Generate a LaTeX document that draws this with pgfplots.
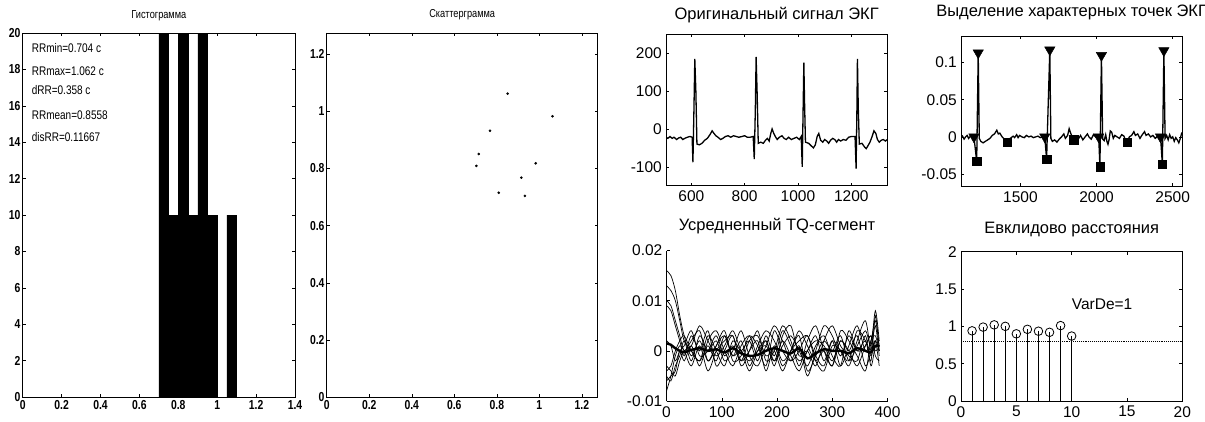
\documentclass[border=0pt]{standalone}
\usepackage{fontspec}
\setmainfont{Liberation Sans}
\newfontfamily\narrowfont[FakeStretch=0.8]{Liberation Sans}
\usepackage{pgfplots}
\usepackage{pgfplotstable}
\pgfplotsset{compat=1.18}

% MATLAB-like look
\pgfplotsset{
  mat/.style={
    scale only axis, tick align=inside, major tick length=3pt,
    axis line style={line width=0.7pt}, every tick/.style={black, line width=0.5pt},
    scaled ticks=false, clip=true,
    /pgf/number format/assume math mode=true,
  },
  big/.style={mat,
    tick label style={font=\fontsize{15.5}{17}\selectfont},
    yticklabel style={inner sep=1pt, xshift=-3pt},
    xticklabel style={inner sep=1pt, yshift=-4pt},
    title style={font=\fontsize{16.5}{18}\selectfont, at={(0.5,1)}, anchor=base},
  },
  small/.style={mat,
    tick label style={font=\narrowfont\bfseries\fontsize{13}{14}\selectfont},
    yticklabel style={inner sep=1pt, xshift=-1pt},
    xticklabel style={inner sep=1pt, yshift=-2pt},
    title style={font=\narrowfont\fontsize{11.5}{12}\selectfont, at={(0.5,1)}, anchor=base, yshift=9pt},
  },
}

% averaged TQ segments (values in 1e-3)
\pgfplotstableread{
x   c1 c2 c3 c4 c5 c6 c7 c8 c9 c10 m
0   16 13 10  9 -5 -6 -8 -4  2 -3  1.5
8   15 12  9  8 -6 -5 -5 -3  1 -4  1.2
16  12 10  6  5 -3 -4 -1  0 -2 -5  0.5
24   7  6  3  2 -1  0  1  2  0 -2  0
32   3  2  0 -1  2 -2  0  3  1  0 -0.3
45  -1  0  2  3 -2  1 -3  0  4  1  0.2
60   2 -2  4  0  3 -3  1 -2 -1  5  0.5
75  -2  3 -2  4  0  2 -4  1  0  2  0
90   1  0  1 -3  2  4  0 -2  3 -1  0.3
105  3 -3  4  0 -2  0  2  3 -1  1 -0.3
120 -1  2 -2  3  0 -3  3 -1  1  4  0.5
135  2  0 -1 -3  4  1 -2  0 -2  0 -0.5
150 -3  2  3  0 -1  3  0 -4  2 -2 -1
165  1 -2  1  4 -3 -1  2  0  3  0 -0.8
180  4  3 -3 -2  1  2 -4  2 -1  1  0
195  2 -1  4  0  5 -3  1 -2  0 -2  0.5
210 -2  4  0  5  2  3 -3  1 -4  2  0
225  0  1 -2  2 -2  5  0  3  0 -1 -0.5
240  3 -2  1 -3  0 -1  4  0  2 -4  0.5
255 -4  0 -5  2  3  0  1 -3  3  0 -1.5
270 -1  3  0  5 -2 -3 -2  1 -1  2 -0.5
285  2 -2  5  0 -4  2  0  3 -3  1  0.3
300  0  2  3 -3  1  5 -3 -1  2 -2  0
315  3 -3 -1  2  0  1  4 -3  0  2  0
330 -2  1  3  0 -3 -1  2  4 -2  0 -0.5
345  1  5  0  3  2 -2 -1  0  4 -3  0.5
360  4  0  2 -3  6  3 -4  1  2  1  0
370  1  2 -2  0  0 -3  2  3 -1  3 -0.3
378  8  6  7  5  2  1  3 -1  2  0  1
385  2  1  0 -1 -3  1  0 -2  0  1  0.8
}\tqtable

\begin{document}
\begin{tikzpicture}
\useasboundingbox (0,0) rectangle (1205pt,421pt);

% ---------- histogram
\begin{axis}[small, at={(22.7pt,24pt)}, anchor=south west,
  width=272.3pt, height=364pt,
  xmin=0, xmax=1.4, ymin=0, ymax=20,
  xtick={0,0.2,0.4,0.6,0.8,1,1.2,1.4}, xticklabels={0,0.2,0.4,0.6,0.8,1,1.2,1.4},
  ytick={0,2,4,6,8,10,12,14,16,18,20}, yticklabels={0,2,4,6,8,10,12,14,16,18,20},
  title={Гистограмма}]
\addplot[ybar interval, fill=black, draw=black] coordinates
  {(0.70,20)(0.75,10)(0.80,20)(0.85,10)(0.90,20)(0.95,10)(1.00,0)(1.05,10)(1.10,0)};
\begin{scope}[every node/.style={anchor=west, inner sep=0pt, font=\narrowfont\fontsize{12.5}{14}\selectfont}]
\node at (axis cs:0.046,19.18) {RRmin=0.704 с};
\node at (axis cs:0.046,17.91) {RRmax=1.062 с};
\node at (axis cs:0.046,16.87) {dRR=0.358 с};
\node at (axis cs:0.046,15.51) {RRmean=0.8558};
\node at (axis cs:0.046,14.29) {disRR=0.11667};
\end{scope}
\end{axis}

% ---------- scattergram
\begin{axis}[small, at={(326.7pt,24pt)}, anchor=south west,
  width=271pt, height=364pt,
  xmin=0, xmax=1.2744, ymin=0, ymax=1.2744,
  xtick={0,0.2,0.4,0.6,0.8,1,1.2}, xticklabels={0,0.2,0.4,0.6,0.8,1,1.2},
  ytick={0,0.2,0.4,0.6,0.8,1,1.2}, yticklabels={0,0.2,0.4,0.6,0.8,1,1.2},
  title={Скаттерграмма}]
\addplot[only marks, mark=*, mark size=1.1pt, black] coordinates
  {(0.915,0.768)(0.768,0.932)(0.932,0.704)(0.704,0.809)(0.809,0.715)
   (0.715,0.851)(0.851,1.062)(1.062,0.983)(0.983,0.818)};
\end{axis}

% ---------- original ECG
\begin{axis}[big, at={(666pt,235.3pt)}, anchor=south west,
  width=221.3pt, height=151.4pt,
  xmin=505, xmax=1335, ymin=-150, ymax=250,
  xtick={600,800,1000,1200}, xticklabels={600,800,1000,1200},
  ytick={-100,0,100,200}, yticklabels={-100,0,100,200},
  title={Оригинальный сигнал ЭКГ}, title style={yshift=9pt}]
\addplot[black, line width=1.3pt] coordinates {
(505,-22)(512,-25)(520,-20)(528,-25)(535,-22)(545,-28)(552,-24)(560,-22)(568,-28)(575,-25)
(585,-22)(595,-20)(603,-22)(606,-88)(610,60)(613,185)(617,100)(621,-40)(630,-42)(640,-38)
(650,-30)(660,-25)(670,-15)(678,-5)(685,-12)(692,-18)(700,-22)(710,-28)(718,-25)(728,-20)
(738,-18)(748,-22)(758,-18)(768,-20)(778,-22)(790,-20)(800,-18)(810,-22)(820,-22)(832,-20)
(836,-80)(840,50)(843,190)(847,90)(851,-38)(860,-35)(870,-38)(878,-30)(885,-25)(892,-32)
(898,-12)(903,0)(908,-10)(915,-20)(922,-28)(930,-22)(940,-18)(948,-25)(956,-28)(965,-22)
(975,-28)(985,-25)(995,-22)(1005,-28)(1012,-20)(1016,-100)(1019,40)(1022,175)(1025,60)(1028,-35)
(1040,-38)(1050,-45)(1058,-50)(1065,-42)(1072,-20)(1078,-12)(1085,-30)(1093,-35)(1100,-28)(1108,-32)
(1115,-38)(1122,-30)(1130,-25)(1138,-28)(1145,-35)(1152,-28)(1160,-32)(1170,-28)(1180,-30)(1190,-22)
(1200,-20)(1214,-20)(1218,-105)(1221,50)(1223,185)(1226,60)(1230,-40)(1240,-38)(1250,-48)(1256,-52)
(1262,-45)(1270,-35)(1278,-20)(1285,-5)(1292,-12)(1298,-28)(1305,-35)(1312,-30)(1320,-28)(1328,-32)
(1335,-28)};
\end{axis}

% ---------- characteristic points
\begin{axis}[big, at={(961pt,235pt)}, anchor=south west,
  width=221.3pt, height=150pt,
  xmin=1110, xmax=2563, ymin=-0.066, ymax=0.1356,
  xtick={1500,2000,2500}, xticklabels={1500,2000,2500},
  ytick={-0.05,0,0.05,0.1}, yticklabels={-0.05,0,0.05,0.1},
  title={Выделение характерных точек ЭКГ}, title style={yshift=14pt}]
\addplot[black, line width=1.3pt] coordinates {
(1110,-0.002)(1120,0.001)(1130,-0.003)(1140,0.000)(1150,0.002)(1160,-0.002)(1172,0.001)(1185,0.000)
(1195,0.000)(1213,-0.033)(1223,0.113)(1230,-0.002)(1240,-0.006)(1255,-0.008)(1270,-0.006)(1285,-0.004)
(1300,-0.002)(1315,0.002)(1330,0.004)(1345,0.009)(1355,0.004)(1365,0.005)(1380,0.000)(1395,-0.003)
(1413,-0.007)(1425,-0.003)(1440,-0.001)(1452,0.001)(1462,-0.001)(1475,0.003)(1485,-0.001)(1495,0.002)
(1510,0.000)(1525,-0.001)(1540,0.002)(1555,0.000)(1570,0.001)(1585,-0.001)(1600,0.000)(1615,0.001)
(1630,-0.001)(1645,0.000)(1660,0.000)(1672,-0.030)(1693,0.117)(1700,-0.002)(1710,-0.006)(1725,-0.004)
(1740,-0.007)(1755,-0.003)(1770,0.000)(1785,0.004)(1795,-0.002)(1810,0.002)(1820,0.011)(1830,0.005)
(1840,0.000)(1851,-0.004)(1865,0.000)(1880,-0.003)(1895,0.002)(1910,-0.004)(1925,0.000)(1940,0.004)
(1950,0.000)(1965,-0.003)(1980,0.003)(1995,0.000)(2014,0.000)(2022,-0.040)(2032,0.1095)(2040,-0.003)
(2050,-0.005)(2060,0.003)(2068,-0.006)(2075,-0.010)(2082,-0.004)(2090,0.008)(2100,0.006)(2110,-0.002)
(2120,0.002)(2135,0.000)(2150,-0.002)(2165,0.003)(2180,0.001)(2190,-0.005)(2202,-0.007)(2215,0.000)
(2230,0.002)(2245,0.007)(2255,0.002)(2270,0.004)(2285,-0.002)(2300,0.003)(2315,0.007)(2325,0.002)
(2340,0.004)(2355,0.000)(2370,0.002)(2385,-0.002)(2400,0.001)(2420,0.000)(2432,-0.037)(2442,0.116)
(2450,-0.002)(2460,0.002)(2470,-0.004)(2480,0.003)(2490,-0.002)(2500,0.000)(2510,-0.006)(2520,-0.001)
(2530,-0.004)(2540,-0.008)(2550,-0.002)(2560,0.006)};
% R peaks and QRS onsets
\addplot[only marks, black, mark=triangle*, mark size=6pt, mark options={rotate=180}] coordinates
  {(1223,0.113)(1693,0.117)(2032,0.1095)(2442,0.116)
   (1195,0.000)(1660,0.000)(2014,0.000)(2420,0.000)};
% S points and T ends
\addplot[only marks, black, mark=square*, mark size=4.2pt] coordinates
  {(1213,-0.033)(1672,-0.030)(2022,-0.040)(2432,-0.037)
   (1413,-0.007)(1851,-0.004)(2202,-0.007)};
\end{axis}

% ---------- averaged TQ segment
\begin{axis}[big, at={(666.5pt,20pt)}, anchor=south west,
  width=221pt, height=150.5pt,
  axis x line*=bottom, axis y line*=left,
  xmin=0, xmax=400, ymin=-10, ymax=20,
  xtick={0,100,200,300,400}, xticklabels={0,100,200,300,400},
  ytick={-10,0,10,20}, yticklabels={-0.01,0,0.01,0.02},
  title={Усредненный TQ-сегмент}, title style={yshift=14pt}]
\pgfplotsinvokeforeach{c1,c2,c3,c4,c5,c6,c7,c8,c9,c10}{
  \addplot[black, line width=0.7pt, smooth, tension=0.5] table[x=x, y=#1] {\tqtable};
}
\addplot[black, line width=2.4pt, smooth, tension=0.5] table[x=x, y=m] {\tqtable};
\end{axis}

% ---------- Euclidean distances
\begin{axis}[big, at={(961pt,20pt)}, anchor=south west,
  width=221.3pt, height=149.3pt,
  xmin=0, xmax=20, ymin=0, ymax=2,
  xtick={0,5,10,15,20}, xticklabels={0,5,10,15,20},
  ytick={0,0.5,1,1.5,2}, yticklabels={0,0.5,1,1.5,2},
  title={Евклидово расстояния}, title style={yshift=12.5pt}]
\addplot[black, densely dotted, line width=0.9pt] coordinates {(0,0.8)(20,0.8)};
\addplot[ycomb, black, line width=0.9pt, mark=o, mark size=4.3pt, mark options={line width=0.8pt}] coordinates
  {(1,0.94)(2,0.99)(3,1.02)(4,1.00)(5,0.90)(6,0.96)(7,0.935)(8,0.92)(9,1.01)(10,0.87)};
\node[anchor=west, font=\fontsize{15.5}{17}\selectfont, inner sep=0pt] at (axis cs:10,1.3) {VarDe=1};
\end{axis}
\end{tikzpicture}
\end{document}
